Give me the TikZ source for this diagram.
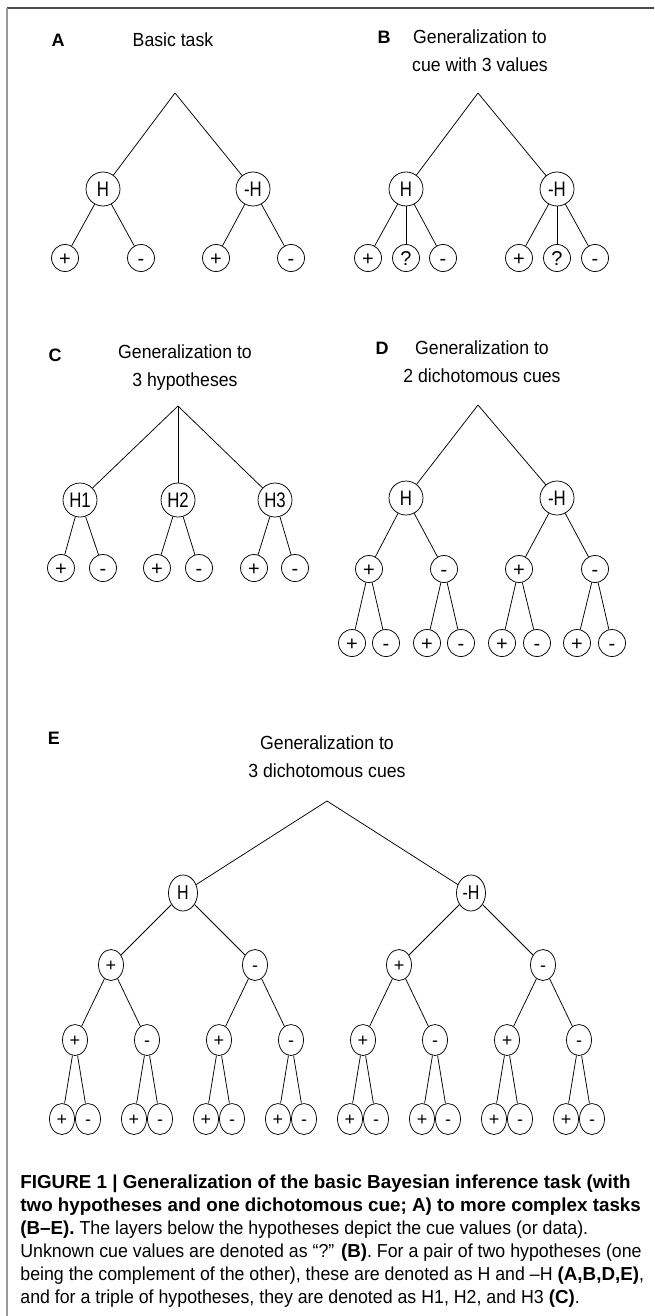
\documentclass[tikz,border=0pt]{standalone}
\usepackage{fontspec}
\setmainfont{Liberation Sans}
\newfontfamily\narrowfont[FakeStretch=0.8]{Liberation Sans}
\newfontfamily\titlefont[FakeStretch=0.93]{Liberation Sans}
\newfontfamily\capfont[FakeStretch=0.945]{Liberation Sans}
\newcommand\capbold[1]{{\normalfont\bfseries #1}}
\usetikzlibrary{shapes.geometric}

\begin{document}
\begin{tikzpicture}[x=1pt,y=-1pt,line width=0.75pt,
  hyp/.style={circle,draw,inner sep=0pt,minimum size=34pt,font=\narrowfont\fontsize{21}{21}\selectfont},
  cue/.style={circle,draw,inner sep=0pt,minimum size=27pt,text height=14pt,text depth=0pt,font=\fontsize{20}{20}\selectfont},
  ehyp/.style={ellipse,draw,inner sep=0pt,minimum width=29pt,minimum height=36pt,font=\narrowfont\fontsize{20}{20}\selectfont},
  ecue/.style={ellipse,draw,inner sep=0pt,minimum width=25pt,minimum height=31pt,text height=12.6pt,text depth=0pt,font=\fontsize{18}{18}\selectfont},
  title/.style={align=center,inner sep=0pt,font=\titlefont\fontsize{19}{28}\selectfont},
  letter/.style={inner sep=0pt,font=\bfseries\fontsize{18}{18}\selectfont}]
\useasboundingbox (0,0) rectangle (654,1316);

% frame
\draw[black!70,line width=1.6pt] (7,8) -- (654,8);
\draw[black!40,line width=1.6pt] (7,8) -- (7,1316);

% A
\node[letter] (labA) at (58,40) {A};
\node[title] (titA) at (173,40) {Basic task};
\coordinate (rootA) at (175,93);
\node[hyp] (hA1) at (103,189) {H};
\node[hyp] (hA2) at (253,189) {-H};
\draw (rootA) -- (hA1);
\draw (rootA) -- (hA2);
\foreach \x/\t/\p [count=\i] in {65/+/1,141/-/1,216/+/2,291/-/2}
{
\node[cue] (cA\i) at (\x,258) {\t};
\draw (hA\p) -- (cA\i);
}

% B
\node[letter] (labB) at (384,37) {B};
\node[title] (titB) at (480,51) {Generalization to\\cue with 3 values};
\coordinate (rootB) at (478,93);
\node[hyp] (hB1) at (406,189) {H};
\node[hyp] (hB2) at (557,189) {-H};
\draw (rootB) -- (hB1);
\draw (rootB) -- (hB2);
\foreach \x/\t/\p [count=\i] in {368/+/1,406/?/1,443/-/1,519/+/2,557/?/2,595/-/2}
{
\node[cue] (cB\i) at (\x,258) {\t};
\draw (hB\p) -- (cB\i);
}

% C
\node[letter] (labC) at (55,355) {C};
\node[title] (titC) at (185,368) {Generalization to\\3 hypotheses};
\coordinate (rootC) at (178,406);
\foreach \x [count=\i] in {80,178,275}
{
\node[hyp] (hC\i) at (\x,500) {H\i};
\draw (rootC) -- (hC\i);
}
\foreach \x/\t/\p [count=\i] in {61/+/1,103/-/1,157/+/2,199/-/2,254/+/3,295/-/3}
{
\node[cue] (cC\i) at (\x,568) {\t};
\draw (hC\p) -- (cC\i);
}

% D
\node[letter] (labD) at (382,348) {D};
\node[title] (titD) at (482,362) {Generalization to\\2 dichotomous cues};
\coordinate (rootD) at (478,405);
\node[hyp] (hD1) at (406,498) {H};
\node[hyp] (hD2) at (557,498) {-H};
\draw (rootD) -- (hD1);
\draw (rootD) -- (hD2);
\foreach \x/\t/\p [count=\i] in {369/+/1,444/-/1,519/+/2,595/-/2}
{
\node[cue] (dD\i) at (\x,569) {\t};
\draw (hD\p) -- (dD\i);
}
\foreach \x/\t/\p [count=\i] in {352/+/1,386/-/1,427/+/2,461/-/2,502/+/3,537/-/3,577/+/4,612/-/4}
{
\node[cue] (eD\i) at (\x,643) {\t};
\draw (dD\p) -- (eD\i);
}

% E
\node[letter] (labE) at (54,738) {E};
\node[title] (titE) at (327,757) {Generalization to\\3 dichotomous cues};
\coordinate (rootE) at (327,801);
\node[ehyp] (hE1) at (183,893) {H};
\node[ehyp] (hE2) at (471,893) {-H};
\draw (rootE) -- (hE1);
\draw (rootE) -- (hE2);
\foreach \x/\t/\p [count=\i] in {111/+/1,255/-/1,399/+/2,543/-/2}
{
\node[ecue] (dE\i) at (\x,965) {\t};
\draw (hE\p) -- (dE\i);
}
\foreach \k in {1,...,8}
{
\pgfmathtruncatemacro{\p}{(\k+1)/2}
\pgfmathsetmacro{\x}{75+72*(\k-1)}
\pgfmathsetmacro{\t}{mod(\k,2)==1 ? "+" : "-"}
\node[ecue] (eE\k) at (\x,1040) {\t};
\draw (dE\p) -- (eE\k);
\node[ecue] (fE\k a) at (\x-13,1119) {+};
\node[ecue] (fE\k b) at (\x+13,1119) {-};
\draw (eE\k) -- (fE\k a);
\draw (eE\k) -- (fE\k b);
}

% caption
\node[anchor=north west,align=left,inner sep=0pt,font=\capfont\fontsize{18.8}{23}\selectfont] (cap) at (20,1174)
{\capbold{FIGURE 1 | Generalization of the basic Bayesian inference task (with}\\
\capbold{two hypotheses and one dichotomous cue; A) to more complex tasks}\\
\capbold{(B–E).} The layers below the hypotheses depict the cue values (or data).\\
Unknown cue values are denoted as “?” \capbold{(B)}. For a pair of two hypotheses (one\\
being the complement of the other), these are denoted as H and –H \capbold{(A,B,D,E)},\\
and for a triple of hypotheses, they are denoted as H1, H2, and H3 \capbold{(C)}.};
\end{tikzpicture}
\end{document}
